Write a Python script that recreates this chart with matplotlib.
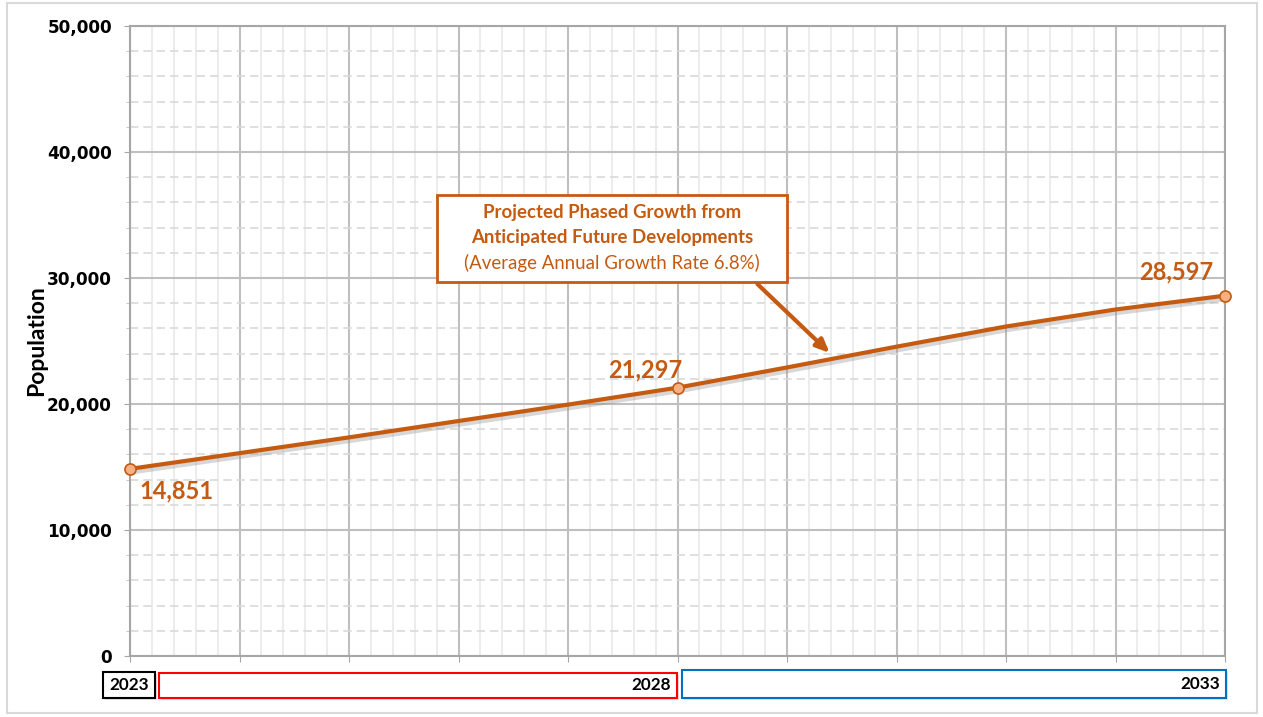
import matplotlib
matplotlib.use("Agg")
import matplotlib.pyplot as plt
import matplotlib.patheffects as pe
from matplotlib.patches import Rectangle
from matplotlib.ticker import MultipleLocator, FuncFormatter

years = [2023, 2024, 2025, 2026, 2027, 2028, 2029, 2030, 2031, 2032, 2033]
population = [14851, 16100, 17350, 18650, 19950, 21297, 22900, 24550, 26150, 27500, 28597]
marker_years = [2023, 2028, 2033]
marker_values = [14851, 21297, 28597]
label_texts = ["14,851", "21,297", "28,597"]
phase_labels = ["2023", "2028", "2033"]
y_label = "Population"
note_lines = ["Projected Phased Growth from", "Anticipated Future Developments",
              "(Average Annual Growth Rate 6.8%)"]

ORANGE = "#C55A11"
W, H = 1263, 717

fig = plt.figure(figsize=(W / 100, H / 100), dpi=100)
fig.patch.set_facecolor("white")

def px(x, y):
    return x / W, 1 - y / H

l, t = px(130, 26)
r, b = px(1225, 656)
ax = fig.add_axes([l, b, r - l, t - b])

ax.set_xlim(2023, 2033)
ax.set_ylim(0, 50000)
ax.xaxis.set_major_locator(MultipleLocator(1))
ax.xaxis.set_minor_locator(MultipleLocator(0.2))
ax.yaxis.set_major_locator(MultipleLocator(10000))
ax.yaxis.set_minor_locator(MultipleLocator(2000))
ax.yaxis.set_major_formatter(FuncFormatter(lambda v, p: f"{int(v):,}"))
ax.set_xticklabels([])
ax.tick_params(axis="x", which="major", length=4, color="#A6A6A6", labelbottom=False)
ax.tick_params(axis="x", which="minor", length=0)
ax.tick_params(axis="y", which="major", length=4, color="#A6A6A6", pad=9)
ax.tick_params(axis="y", which="minor", length=3, color="#BFBFBF")
for lab in ax.get_yticklabels():
    lab.set_fontfamily("DejaVu Sans")
    lab.set_fontweight("bold")
    lab.set_fontsize(12.2)

ax.grid(which="major", axis="both", color="#BFBFBF", linewidth=1.5, zorder=0)
ax.grid(which="minor", axis="x", color="#E9E9E9", linewidth=1.2, zorder=0)
ax.grid(which="minor", axis="y", color="#D9D9D9", linewidth=1.2, linestyle=(0, (5, 3)), zorder=0)
ax.set_axisbelow(True)
for s in ax.spines.values():
    s.set_color("#A6A6A6")
    s.set_linewidth(1.5)

ax.set_ylabel(y_label, fontfamily="Lato", fontweight="bold", fontsize=16.5, labelpad=0)

ax.plot(years, population, color=ORANGE, linewidth=3, zorder=3,
        path_effects=[pe.SimpleLineShadow(offset=(1.5, -2.5), shadow_color="#8F8F8F", alpha=0.35, rho=1),
                      pe.Normal()])
ax.plot(marker_years, marker_values, linestyle="none", marker="o", markersize=8,
        markerfacecolor="#F4B183", markeredgecolor=ORANGE, markeredgewidth=1.2, zorder=4,
        clip_on=False)

offsets = [(7, -16), (-23, 13), (-35, 17)]
aligns = ["left", "center", "center"]
for xv, yv, txt, off, al in zip(marker_years, marker_values, label_texts, offsets, aligns):
    ax.annotate(txt, (xv, yv), xytext=off, textcoords="offset points", ha=al, va="center",
                color=ORANGE, fontfamily="Lato", fontweight="bold", fontsize=17, zorder=5)

# annotation box
bx0, by0 = px(437, 282)
bx1, by1 = px(787, 195)
fig.add_artist(Rectangle((bx0, by0), bx1 - bx0, by1 - by0, transform=fig.transFigure,
                         facecolor="white", edgecolor=ORANGE, linewidth=2, zorder=6))
cx = (bx0 + bx1) / 2
for i, (line, wgt) in enumerate(zip(note_lines, ["bold", "bold", "normal"])):
    yy = 1 - (213 + i * 25) / H
    fig.text(cx, yy, line, ha="center", va="center", color=ORANGE, fontfamily="Lato",
             fontweight=wgt, fontsize=13.4, zorder=7)

# arrow
ax.annotate("", xy=(2029.39, 24050), xytext=(2028.73, 29520),
            arrowprops=dict(arrowstyle="-|>,head_length=0.8,head_width=0.35", color=ORANGE, lw=3,
                            shrinkA=0, shrinkB=0), zorder=6)

# phase boxes
boxes = [(103, 672, 155, 698, "#000000"), (159, 673, 677, 698, "#FF0000"), (682, 670, 1226, 698, "#0070C0")]
text_x = [129, 671, 1220]
text_ha = ["center", "right", "right"]
for (x0, y0, x1, y1, col), lbl, tx, ha in zip(boxes, phase_labels, text_x, text_ha):
    fx0, fy1 = px(x0, y0)
    fx1, fy0 = px(x1, y1)
    sx, sy = 2 / W, 2 / H
    fig.add_artist(Rectangle((fx0 + sx, fy0 - sy), fx1 - fx0, fy1 - fy0, transform=fig.transFigure,
                             facecolor="#D0D0D0", edgecolor="none", alpha=0.6, zorder=1))
    fig.add_artist(Rectangle((fx0, fy0), fx1 - fx0, fy1 - fy0, transform=fig.transFigure,
                             facecolor="white", edgecolor=col, linewidth=1.5, zorder=2))
    fig.text(tx / W, (fy0 + fy1) / 2, lbl, ha=ha, va="center", fontfamily="Lato",
             fontweight="bold", fontsize=12.3, color="black", zorder=3)

# outer border
ox0, oy1 = px(7, 3)
ox1, oy0 = px(1257, 713)
fig.add_artist(Rectangle((ox0, oy0), ox1 - ox0, oy1 - oy0, transform=fig.transFigure,
                         facecolor="none", edgecolor="#D9D9D9", linewidth=1.5, zorder=0))

fig.savefig("out.png", dpi=100, facecolor="white")
